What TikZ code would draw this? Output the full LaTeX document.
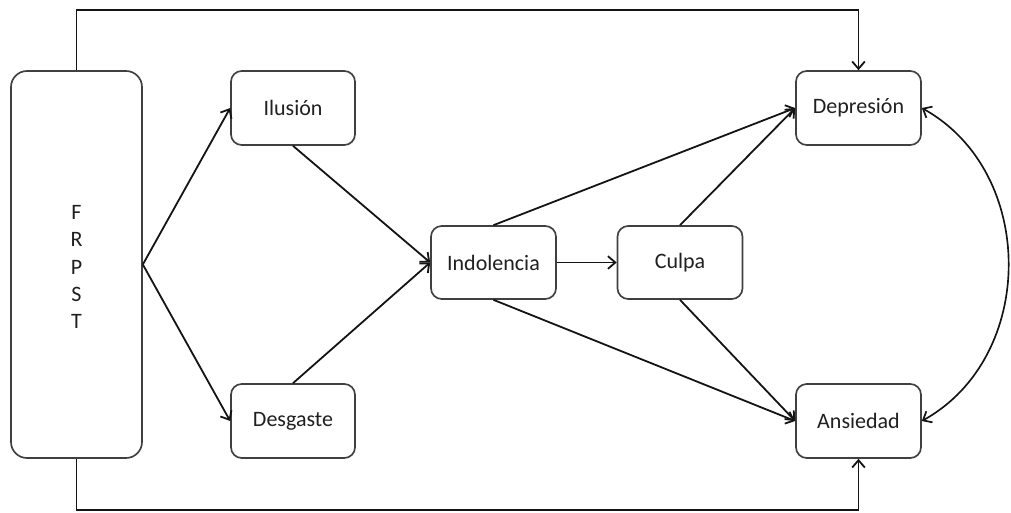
\documentclass[tikz,border=0pt]{standalone}
\usepackage{fontspec}
\setmainfont{Carlito}
\usetikzlibrary{arrows.meta}
\definecolor{boxline}{HTML}{404040}
\definecolor{inkline}{HTML}{141414}
\definecolor{txt}{HTML}{202020}
\begin{document}
\begin{tikzpicture}[x=0.75pt,y=-0.75pt,
  box/.style={draw=boxline,line width=1.25pt,rounded corners=8pt,fill=white,
    inner sep=0pt,minimum width=93pt,minimum height=55.5pt,
    font=\fontsize{16.5}{19}\selectfont,text=txt},
  tallbox/.style={box,minimum width=98.25pt,minimum height=290.25pt,rounded corners=12pt},
  arr/.style={draw=inkline,line width=1.35pt,-{Straight Barb[length=5.5pt,width=9.5pt,line width=1.35pt]}},
  biarr/.style={draw=inkline,line width=1.25pt,{Straight Barb[length=5.5pt,width=9.5pt,line width=1.3pt]}-{Straight Barb[length=5.5pt,width=9.5pt,line width=1.3pt]}}]
\useasboundingbox (0,0) rectangle (1011,512);

% factor block and the chain of constructs
\node[tallbox] (frpst) at (76.5,264.5) {};
\node[align=center,inner sep=0pt,text=txt,font=\fontsize{16.5}{20.5}\selectfont] (frpstlabel) at (76.5,267) {F\\R\\P\\S\\T};
\node[box] (ilusion) at (293,108) {Ilusión};
\node[box] (desgaste) at (293,421) {Desgaste};
\node[box,minimum width=93.75pt,minimum height=54.75pt] (indolencia) at (493.5,262.5) {Indolencia};
\node[box,minimum width=93.75pt,minimum height=54.75pt] (culpa) at (680,262.5) {Culpa};
\node[box,minimum width=93.75pt] (depresion) at (858.5,108) {Depresión};
\node[box,minimum width=93.75pt] (ansiedad) at (858.5,421) {Ansiedad};

% turning points of the outer paths
\coordinate (topline) at (500,10);
\coordinate (botline) at (500,510);

\draw[arr] (frpst.east) -- (ilusion.west);
\draw[arr] (frpst.east) -- (desgaste.west);
\draw[arr] (ilusion.south) -- (indolencia.west);
\draw[arr] (desgaste.north) -- (indolencia.west);
\draw[arr] (indolencia.east) -- (culpa.west);
\draw[arr] (indolencia.north) -- (depresion.west);
\draw[arr] (indolencia.south) -- (ansiedad.west);
\draw[arr] (culpa.north) -- (depresion.west);
\draw[arr] (culpa.south) -- (ansiedad.west);

\draw[arr] (frpst.north) |- (topline) -| (depresion.north);
\draw[arr] (frpst.south) |- (botline) -| (ansiedad.south);

\draw[biarr] (depresion.east) .. controls (1037,172) and (1037,357) .. (ansiedad.east);
\end{tikzpicture}
\end{document}
